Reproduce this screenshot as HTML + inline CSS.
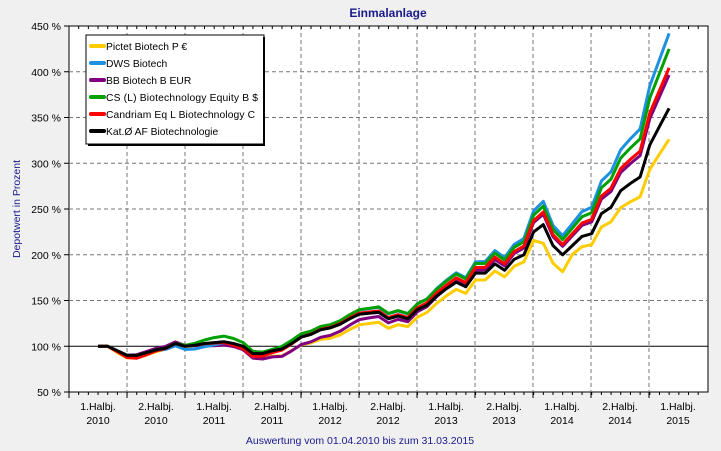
<!DOCTYPE html>
<html><head><meta charset="utf-8"><style>
body{margin:0;background:#f0f0f0;}
svg{display:block;font-family:"Liberation Sans",Arial,sans-serif;}
</style></head><body>
<svg id="s" width="721" height="451" xmlns="http://www.w3.org/2000/svg">
<rect width="721" height="451" fill="#f0f0f0"/>
<text x="388" y="17" text-anchor="middle" font-size="12" font-weight="bold" fill="#1a1a8c">Einmalanlage</text>
<rect x="69" y="26" width="639" height="366" fill="#fff" stroke="#000" stroke-width="1"/>
<g id="grid"></g>
<g id="lines"></g>
<text transform="translate(20,209) rotate(-90)" text-anchor="middle" font-size="10.5" fill="#1a1a8c">Depotwert in Prozent</text>
<text x="360" y="444" text-anchor="middle" font-size="10.5" fill="#1a1a8c">Auswertung vom 01.04.2010 bis zum 31.03.2015</text>
<rect x="86" y="35" width="178" height="109" fill="#fff" stroke="#000" stroke-width="1"/>
<line x1="264" y1="37" x2="264" y2="145" stroke="#000" stroke-width="2"/>
<line x1="88" y1="145" x2="265" y2="145" stroke="#000" stroke-width="2"/>
<g font-size="10.3" fill="#000">
<line x1="91" y1="46" x2="104" y2="46" stroke="#ffcc00" stroke-width="4" stroke-linecap="round"/><text x="106" y="50">Pictet Biotech P €</text>
<line x1="91" y1="63" x2="104" y2="63" stroke="#1e90e0" stroke-width="4" stroke-linecap="round"/><text x="106" y="67">DWS Biotech</text>
<line x1="91" y1="80" x2="104" y2="80" stroke="#800080" stroke-width="4" stroke-linecap="round"/><text x="106" y="84">BB Biotech B EUR</text>
<line x1="91" y1="97" x2="104" y2="97" stroke="#00a000" stroke-width="4" stroke-linecap="round"/><text x="106" y="101" textLength="152">CS (L) Biotechnology Equity B $</text>
<line x1="91" y1="114" x2="104" y2="114" stroke="#ff0000" stroke-width="4" stroke-linecap="round"/><text x="106" y="118" textLength="149">Candriam Eq L Biotechnology C</text>
<line x1="91" y1="131" x2="104" y2="131" stroke="#000" stroke-width="4" stroke-linecap="round"/><text x="106" y="135">Kat.Ø AF Biotechnologie</text>
</g>
</svg>
<script>
var NS="http://www.w3.org/2000/svg",g=document.getElementById("grid"),L=document.getElementById("lines"),s=document.getElementById("s");
function el(p,t,a,txt){var e=document.createElementNS(NS,t);for(var k in a)e.setAttribute(k,a[k]);if(txt)e.textContent=txt;p.appendChild(e);return e;}
function Y(v){return 392-(v-50)*0.915;}
for(var v=50;v<=450;v+=50){var y=Y(v);
 if(v>50&&v<450&&v!=100)el(g,"line",{x1:69,x2:708,y1:y,y2:y,stroke:"#777","stroke-dasharray":"4,3"});
 el(g,"line",{x1:64,x2:69,y1:y,y2:y,stroke:"#000"});
 el(s,"text",{x:61,y:y+4,"text-anchor":"end","font-size":"10.5"},v+" %");}
el(g,"line",{x1:69,x2:708,y1:Y(100),y2:Y(100),stroke:"#000"});
var labs=["2010","2010","2011","2011","2012","2012","2013","2013","2014","2014","2015"];
for(var i=0;i<11;i++){var x=69+i*58;
 if(i>0)el(g,"line",{x1:x,x2:x,y1:26,y2:392,stroke:"#777","stroke-dasharray":"4,3"});
 el(g,"line",{x1:x,x2:x,y1:392,y2:398,stroke:"#000"});
 el(s,"text",{x:x+29,y:410,"text-anchor":"middle","font-size":"10.5"},(i%2?"2.Halbj.":"1.Halbj."));
 el(s,"text",{x:x+29,y:424,"text-anchor":"middle","font-size":"10.5"},labs[i]);}
for(var m=0;m<66;m++){var x=69+m*9.68;el(g,"line",{x1:x,x2:x,y1:392,y2:395,stroke:"#000"});el(g,"line",{x1:x,x2:x,y1:26,y2:29,stroke:"#000"});}
var b=[100,100,95,90,90,93,96,98,103,100,101,103,104,105,103,100,92,92,95,97,103,110,113,118,120,124,130,135,136,137,130,133,130,140,145,155,163,170,165,180,180,190,183,195,200,225,233,210,200,210,220,223,245,252,270,278,285,320,340,360];
function gb(i,c,w){return Math.exp(-Math.pow((i-c)/w,2));}
var ser=[["#ffcc00",0.87,-8,function(i){return -3*gb(i,4,3)-5*gb(i,17,3)-6*gb(i,24,5);}],
 ["#800080",1.14,-5,function(i){return 2*gb(i,7,3)-3*gb(i,12,2)-6*gb(i,18,4)-5*gb(i,24,4);}],
 ["#1e90e0",1.315,3,function(i){return -4*gb(i,10,3)+2*gb(i,20,3);}],
 ["#00a000",1.25,4,function(i){return 6*gb(i,13,3)+2*gb(i,20,3);}],
 ["#ff0000",1.17,0,function(i){return -3*gb(i,4,2)-3*gb(i,16,3);}],
 ["#000",1,0,function(i){return 0;}]];
ser.forEach(function(sr){var pts=[];b.forEach(function(v,i){var f=Math.pow(i/59,2);var k=1+(sr[1]-1)*f;var w=100+(v-100)*k;if(i>18&&i<45)w+=sr[2]*(1-Math.abs(i-30)/15);w+=sr[3](i);if(i<2)w=100;if(sr[0]=="#ffcc00"&&i>=46&&i<=48)w-=10;pts.push((98+i*9.68).toFixed(1)+","+Y(w).toFixed(1));});
 el(L,"polyline",{points:pts.join(" "),fill:"none",stroke:sr[0],"stroke-width":3,"stroke-linejoin":"round"});});
</script>
</body></html>
